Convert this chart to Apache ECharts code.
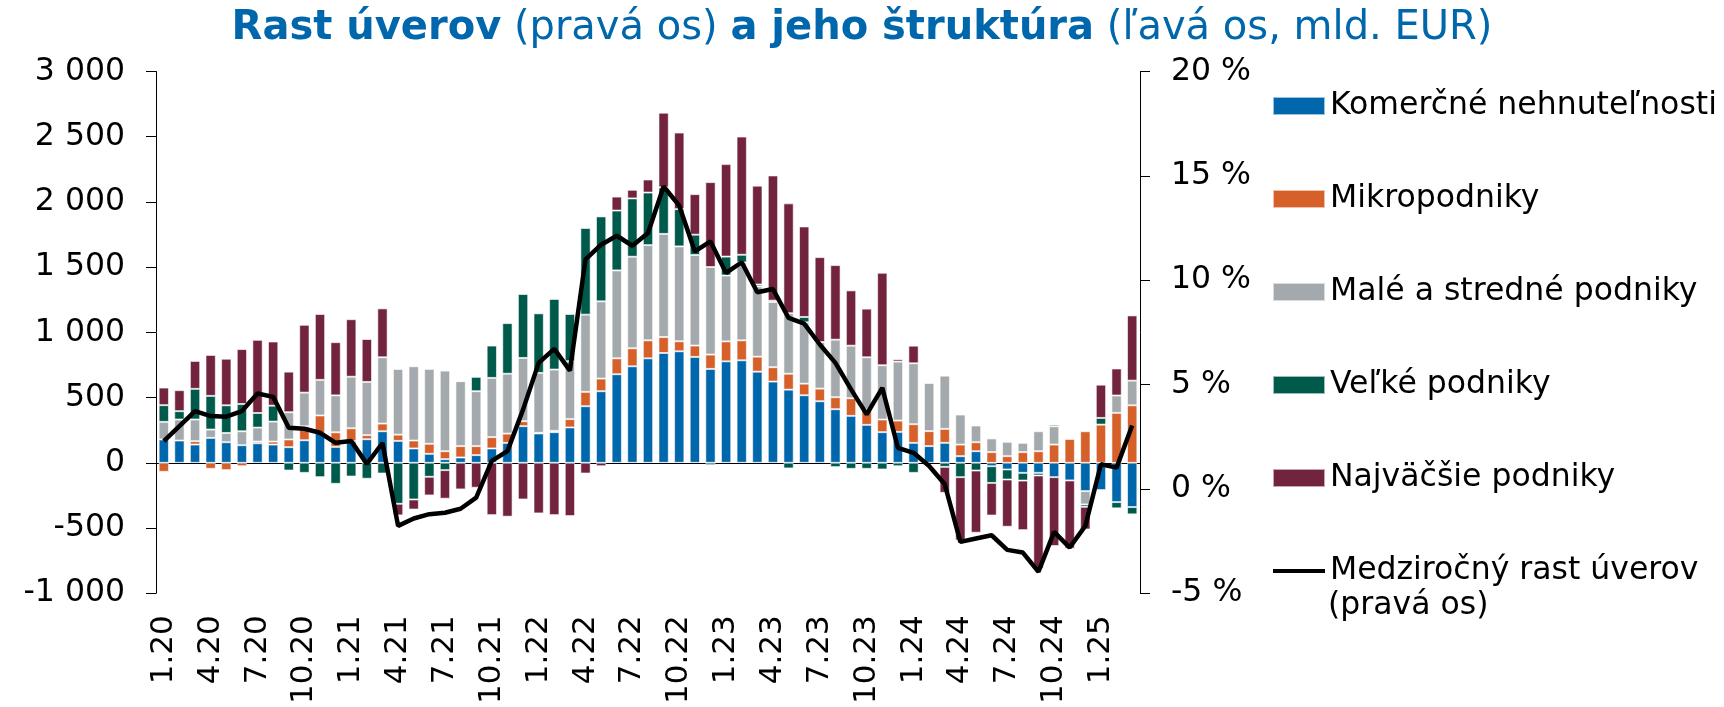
<!DOCTYPE html>
<html lang="sk">
<head>
  <meta charset="UTF-8">
  <title>Rast úverov a jeho štruktúra</title>
  <script src="https://cdn.jsdelivr.net/npm/echarts@6/dist/echarts.min.js"></script>
  <style>
    html, body {
      margin: 0;
      padding: 0;
      background: #fff;
    }

    #chart {
      width: 1724px;
      height: 707px;
    }
  </style>
</head>

<body>
<div id="chart"></div>

<script>
  let months = [
    '1.20', '2.20', '3.20', '4.20', '5.20', '6.20', '7.20', '8.20', '9.20', '10.20', '11.20', '12.20',
    '1.21', '2.21', '3.21', '4.21', '5.21', '6.21', '7.21', '8.21', '9.21', '10.21', '11.21', '12.21',
    '1.22', '2.22', '3.22', '4.22', '5.22', '6.22', '7.22', '8.22', '9.22', '10.22', '11.22', '12.22',
    '1.23', '2.23', '3.23', '4.23', '5.23', '6.23', '7.23', '8.23', '9.23', '10.23', '11.23', '12.23',
    '1.24', '2.24', '3.24', '4.24', '5.24', '6.24', '7.24', '8.24', '9.24', '10.24', '11.24', '12.24',
    '1.25', '2.25', '3.25'
  ];

  // mil. EUR, lava os
  let komercne = [
    179, 171, 140, 191, 158, 135, 150, 140, 120, 173, 230, 122,
    166, 181, 242, 168, 110, 69, 28, 41, 59, 110, 153, 281,
    225, 235, 271, 434, 549, 679, 740, 801, 842, 855, 812, 720,
    778, 786, 699, 623, 561, 518, 472, 411, 360, 291, 235, 237,
    153, 128, 153, 51, 89, -26, -51, -77, -77, -110, -135, -217,
    -209, -301, -339
  ];
  let mikro = [
    -69, 0, 26, -46, -56, -26, 13, 23, 59, 107, 133, 112,
    99, 31, 59, 48, 61, 77, 61, 87, 69, 87, 71, 38,
    5, 10, 64, 110, 97, 122, 138, 138, 122, 77, 87, 110,
    153, 153, 115, 110, 122, 89, 97, 92, 135, 117, 97, 87,
    143, 115, 107, 89, 69, 82, 51, 82, 89, 140, 184, 242,
    293, 383, 441
  ];
  let maleStredne = [
    135, 161, 166, 64, 71, 107, 107, 153, 209, 258, 273, 283,
    395, 408, 508, 503, 569, 574, 618, 498, 421, 454, 459, 485,
    459, 470, 444, 592, 592, 674, 702, 730, 791, 727, 694, 671,
    505, 597, 538, 500, 464, 470, 357, 441, 403, 401, 416, 452,
    467, 370, 408, 230, 128, 105, 110, 71, 153, 140, 0, -102,
    0, 133, 189
  ];
  let velke = [
    128, 64, 235, 258, 212, 209, 112, 122, -59, -77, -110, -161,
    -105, -122, -82, -314, -281, -107, -56, 0, 110, 248, 388, 490,
    457, 541, 362, 664, 651, 459, 447, 403, 357, 286, 156, -18,
    145, 59, 15, 10, -43, 41, 0, -33, -46, -46, -51, -26,
    -77, 0, -31, -110, -59, -128, -77, -59, -20, 13, 8, -18,
    51, -48, -56
  ];
  let najvacsie = [
    135, 161, 214, 314, 357, 421, 561, 492, 311, 520, 505, 408,
    441, 329, 375, -89, -77, -143, -219, -204, -191, -401, -413, -281,
    -388, -401, -408, -82, -26, 107, 66, 100, 572, 587, 311, 651,
    709, 906, 758, 960, 842, 694, 651, 572, 424, 373, 709, 18,
    135, 5, -199, -485, -477, -250, -362, -380, -715, -528, -523, -174,
    255, 207, 500
  ];
  // %, prava os
  let rastUverov = [
    2.29, 3.01, 3.73, 3.49, 3.46, 3.73, 4.57, 4.41, 2.93, 2.88, 2.69, 2.21,
    2.29, 1.2, 2.2, -1.77, -1.42, -1.21, -1.14, -0.95, -0.42, 1.34, 1.81, 3.8,
    6.04, 6.71, 5.67, 11.0, 11.7, 12.13, 11.65, 12.26, 14.49, 13.57, 11.38, 11.86,
    10.35, 10.86, 9.42, 9.58, 8.19, 7.92, 6.92, 6.04, 4.77, 3.57, 4.84, 1.97,
    1.73, 1.1, 0.22, -2.54, -2.38, -2.22, -2.92, -3.05, -3.97, -2.06, -2.81, -1.77,
    1.18, 1.02, 3.04
  ];

  let font = 'DejaVu Sans';
  let blue = '#0067ac';

  function barSeries(name, data, color) {
    return {
      name: name,
      type: 'bar',
      stack: 'uvery',
      data: data,
      barCategoryGap: '34%',
      itemStyle: {
        color: color,
        borderColor: 'rgba(255,255,255,0.6)',
        borderWidth: 1
      }
    };
  }

  function thousands(v) {
    let s = String(Math.abs(v)).replace(/\B(?=(\d{3})+(?!\d))/g, ' ');
    return (v < 0 ? '-' : '') + s;
  }

  let chart = echarts.init(document.getElementById('chart'));
  chart.setOption({
    animation: false,
    textStyle: {fontFamily: font},
    title: {
      left: 'center',
      top: 4,
      text: '{b|Rast úverov} {n|(pravá os)} {b|a jeho štruktúra} {n|(ľavá os, mld. EUR)}',
      textStyle: {
        fontSize: 40,
        fontWeight: 'normal',
        color: blue,
        fontFamily: font,
        rich: {
          b: {fontSize: 40, fontWeight: 'bold', color: blue, fontFamily: font},
          n: {fontSize: 40, fontWeight: 'normal', color: blue, fontFamily: font}
        }
      }
    },
    legend: {
      orient: 'vertical',
      left: 1266,
      top: 83,
      itemWidth: 52,
      itemHeight: 18,
      itemGap: 57,
      textStyle: {fontSize: 31.5, lineHeight: 36, color: '#000', fontFamily: font},
      data: [
        {name: 'Komerčné nehnuteľnosti', icon: 'rect'},
        {name: 'Mikropodniky', icon: 'rect'},
        {name: 'Malé a stredné podniky', icon: 'rect'},
        {name: 'Veľké podniky', icon: 'rect'},
        {name: 'Najväčšie podniky', icon: 'rect'},
        {
          name: 'Medziročný rast úverov',
          itemStyle: {opacity: 0},
          lineStyle: {color: '#000', width: 4}
        }
      ]
    },
    graphic: [{
      type: 'text',
      left: 1328,
      top: 590,
      style: {text: '(pravá os)', fontSize: 31.5, fontFamily: font, fill: '#000'}
    }],
    grid: {left: 156, right: 584, top: 71.5, bottom: 113},
    xAxis: [{
      type: 'category',
      data: months,
      position: 'bottom',
      axisLine: {show: false, onZero: false},
      axisTick: {show: false},
      axisLabel: {interval: 2, rotate: 90, margin: 22, fontSize: 31, color: '#000', fontFamily: font}
    }, {
      type: 'category',
      data: months,
      position: 'bottom',
      axisLine: {onZero: true, onZeroAxisIndex: 0, lineStyle: {color: '#000', width: 1}},
      axisTick: {interval: 2, length: 10, lineStyle: {color: '#000'}},
      axisLabel: {show: false}
    }],
    yAxis: [{
      type: 'value',
      min: -1000,
      max: 3000,
      interval: 500,
      position: 'left',
      axisLine: {show: true, lineStyle: {color: '#000', width: 1}},
      axisTick: {show: true, length: 10, lineStyle: {color: '#000'}},
      splitLine: {show: false},
      axisLabel: {margin: 31, fontSize: 31.5, color: '#000', fontFamily: font, formatter: thousands}
    }, {
      type: 'value',
      min: -5,
      max: 20,
      interval: 5,
      position: 'right',
      axisLine: {show: true, lineStyle: {color: '#000', width: 1}},
      axisTick: {show: true, length: 10, lineStyle: {color: '#000'}},
      splitLine: {show: false},
      axisLabel: {margin: 31, fontSize: 31.5, color: '#000', fontFamily: font, formatter: '{value} %'}
    }],
    series: [
      barSeries('Komerčné nehnuteľnosti', komercne, '#0067ac'),
      barSeries('Mikropodniky', mikro, '#d5602a'),
      barSeries('Malé a stredné podniky', maleStredne, '#a3a9ac'),
      barSeries('Veľké podniky', velke, '#005a4b'),
      barSeries('Najväčšie podniky', najvacsie, '#72233e'),
      {
        name: 'Medziročný rast úverov',
        type: 'line',
        yAxisIndex: 1,
        data: rastUverov,
        symbol: 'none',
        z: 5,
        itemStyle: {color: '#000'},
        lineStyle: {color: '#000', width: 4.5}
      }
    ]
  });
</script>
</body>
</html>
